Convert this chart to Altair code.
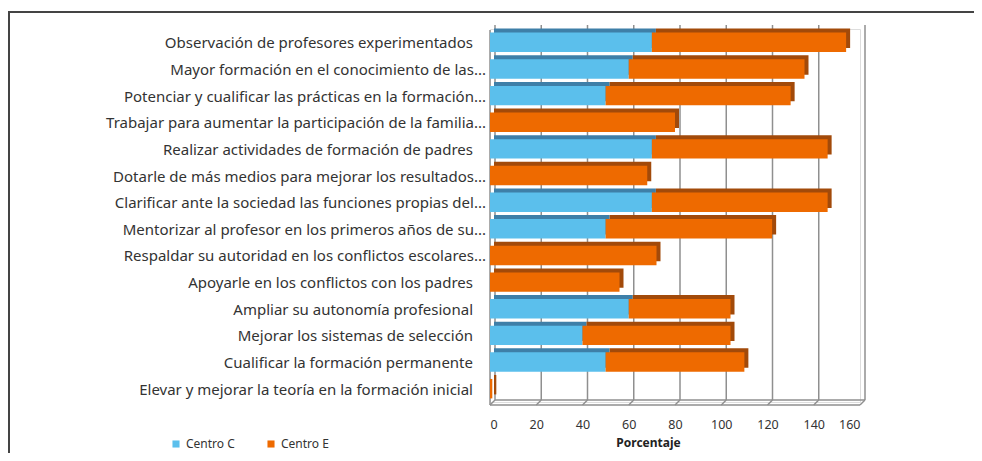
import altair as alt
import pandas as pd

categories = [
    "Observación de profesores experimentados",
    "Mayor formación en el conocimiento de las...",
    "Potenciar y cualificar las prácticas en la formación...",
    "Trabajar para aumentar la participación de la familia...",
    "Realizar actividades de formación de padres",
    "Dotarle de más medios para mejorar los resultados...",
    "Clarificar ante la sociedad las funciones propias del...",
    "Mentorizar al profesor en los primeros años de su...",
    "Respaldar su autoridad en los conflictos escolares...",
    "Apoyarle en los conflictos con los padres",
    "Ampliar su autonomía profesional",
    "Mejorar los sistemas de selección",
    "Cualificar la formación permanente",
    "Elevar y mejorar la teoría en la formación inicial",
]
centro_c = [70, 60, 50, 0, 70, 0, 70, 50, 0, 0, 60, 40, 50, 0]
centro_e = [84, 76, 80, 80, 76, 68, 76, 72, 72, 56, 44, 64, 60, 1]
series = ["Centro C", "Centro E"]
x_ticks = [0, 20, 40, 60, 80, 100, 120, 140, 160]

front_colors = ["#5BBFEC", "#EE6A00"]
side_colors = ["#3E7FA8", "#A24A0A"]

W, H = 370, 373
PAD_L, PAD_T = 482, 21
FONT = "Noto Sans"

rows = []
for i, cat in enumerate(categories):
    rows.append({"cat": cat, "serie": series[0], "x0": 0, "x1": centro_c[i]})
    rows.append({"cat": cat, "serie": series[1], "x0": centro_c[i], "x1": centro_c[i] + centro_e[i]})
df = pd.DataFrame(rows)
labels_df = pd.DataFrame({"cat": categories, "trunc": [c.endswith("...") for c in categories]})
ticks_df = pd.DataFrame({"t": x_ticks})
one = pd.DataFrame({"a": [0]})

xscale = alt.Scale(domain=[0, 160], nice=False, zero=True)
yscale = alt.Scale(paddingInner=0.27, paddingOuter=0.135)

grid_color = "#8f8f8f"

# back wall grid lines (carries the x axis)
grid = alt.Chart(ticks_df).mark_rule(color=grid_color, strokeWidth=1.5, xOffset=5).encode(
    x=alt.X("t:Q", scale=xscale,
            axis=alt.Axis(values=x_ticks, grid=False, ticks=False, domain=False,
                          labelPadding=16, labelFont=FONT, labelFontSize=12.5,
                          labelColor="#333333", title="Porcentaje",
                          titleFont=FONT, titleFontSize=12, titleFontWeight="bold",
                          titleColor="#222222", titleX=158, titleY=35)),
    y=alt.value(-4),
    y2=alt.value(H - 2),
)
# floor diagonals
diag = alt.Chart(ticks_df).mark_rule(color=grid_color, strokeWidth=1.5, x2Offset=5).encode(
    x=alt.X("t:Q", scale=xscale),
    x2="t:Q",
    y=alt.value(H + 3),
    y2=alt.value(H - 2),
)
floor_front = alt.Chart(one).mark_rule(color=grid_color, strokeWidth=1.5).encode(
    x=alt.value(0), x2=alt.value(W), y=alt.value(H + 3)
)
floor_back = alt.Chart(one).mark_rule(color=grid_color, strokeWidth=1.5).encode(
    x=alt.value(5), x2=alt.value(W + 5), y=alt.value(H - 2)
)
left_front = alt.Chart(one).mark_rule(color=grid_color, strokeWidth=1.5).encode(
    x=alt.value(0), y=alt.value(1), y2=alt.value(H + 3)
)

shadow = alt.Chart(df).mark_bar(xOffset=4, x2Offset=4, yOffset=-4, y2Offset=-4).encode(
    y=alt.Y("cat:N", sort=categories, scale=yscale, axis=None),
    x=alt.X("x0:Q", scale=xscale),
    x2="x1:Q",
    color=alt.Color("serie:N", scale=alt.Scale(domain=series, range=side_colors), legend=None),
)

front = alt.Chart(df).mark_bar().encode(
    y=alt.Y("cat:N", sort=categories, scale=yscale),
    x=alt.X("x0:Q", scale=xscale),
    x2="x1:Q",
    color=alt.Color("serie:N", scale=alt.Scale(domain=series, range=front_colors),
                    legend=alt.Legend(title=None, orient="none", direction="horizontal",
                                      legendX=-320, legendY=409, symbolType="square",
                                      symbolSize=50, labelFont=FONT, labelFontSize=12,
                                      labelColor="#333333", columnPadding=30,
                                      symbolStrokeWidth=0)),
)

label_base = dict(align="right", baseline="middle", font=FONT, fontSize=15, color="#333333", dy=1)
labels_trunc = alt.Chart(labels_df).transform_filter("datum.trunc").mark_text(**label_base).encode(
    y=alt.Y("cat:N", sort=categories, scale=yscale),
    x=alt.value(-4),
    text="cat:N",
)
labels_full = alt.Chart(labels_df).transform_filter("!datum.trunc").mark_text(**label_base).encode(
    y=alt.Y("cat:N", sort=categories, scale=yscale),
    x=alt.value(-17),
    text="cat:N",
)

border_top = alt.Chart(one).mark_rule(color="#444444", strokeWidth=2).encode(
    x=alt.value(-PAD_L), x2=alt.value(W + 120), y=alt.value(-17)
)
border_left = alt.Chart(one).mark_rule(color="#444444", strokeWidth=2).encode(
    x=alt.value(-PAD_L + 1), y=alt.value(-17), y2=alt.value(H + 60)
)

chart = alt.layer(
    grid, diag, floor_back, floor_front, left_front, shadow, front,
    labels_trunc, labels_full, border_top, border_left
).resolve_scale(color="independent").properties(
    width=W, height=H,
    padding={"left": PAD_L, "top": PAD_T, "right": 966 - PAD_L - W, "bottom": 445 - PAD_T - H},
    autosize=alt.AutoSizeParams(type="none"),
).configure_view(stroke=None).configure(background="white")

chart.save("out.html", embed_options={"renderer": "svg", "actions": False})
